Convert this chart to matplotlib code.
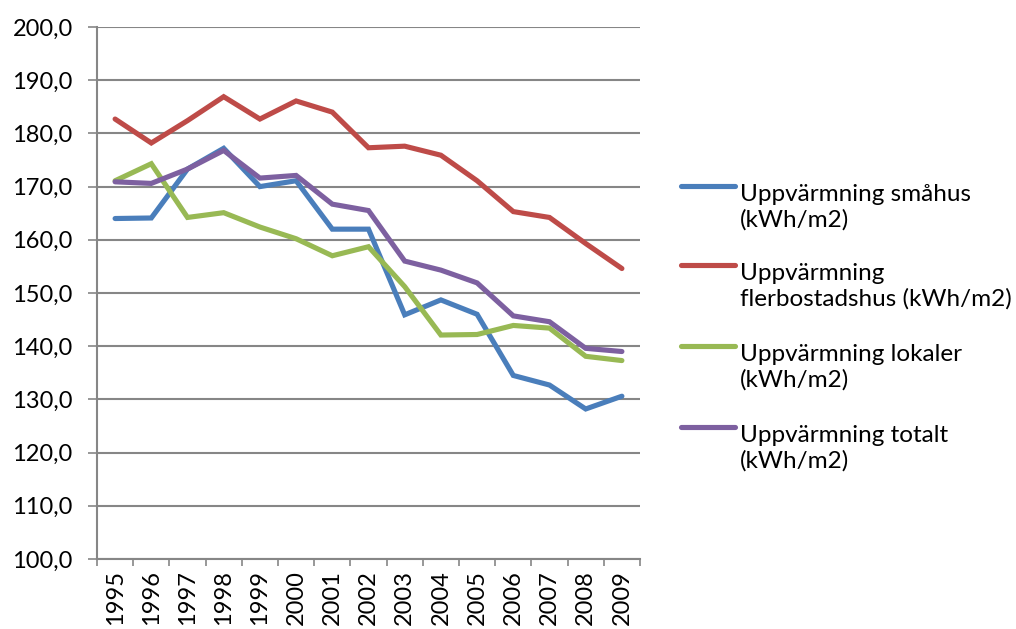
import matplotlib
matplotlib.use("Agg")
import matplotlib.pyplot as plt
from matplotlib.lines import Line2D
from matplotlib.ticker import FixedLocator, FuncFormatter

years = ["1995", "1996", "1997", "1998", "1999", "2000", "2001", "2002",
         "2003", "2004", "2005", "2006", "2007", "2008", "2009"]
smahus = [164.0, 164.1, 173.3, 177.2, 170.0, 171.1, 162.0, 162.0,
          145.9, 148.7, 146.0, 134.5, 132.7, 128.2, 130.6]
flerbostadshus = [182.7, 178.2, 182.4, 186.9, 182.7, 186.1, 184.0, 177.3,
                  177.6, 175.9, 171.1, 165.3, 164.2, 159.3, 154.6]
lokaler = [171.1, 174.3, 164.2, 165.1, 162.4, 160.2, 157.0, 158.7,
           151.2, 142.1, 142.2, 143.9, 143.4, 138.1, 137.3]
totalt = [170.9, 170.6, 173.3, 176.8, 171.6, 172.1, 166.7, 165.5,
          156.0, 154.3, 151.9, 145.7, 144.6, 139.6, 139.0]

labels = ["Uppvärmning småhus\n(kWh/m2)",
          "Uppvärmning\nflerbostadshus (kWh/m2)",
          "Uppvärmning lokaler\n(kWh/m2)",
          "Uppvärmning totalt\n(kWh/m2)"]
colors = ["#4A7EBB", "#BE4B48", "#98B954", "#7D60A0"]
series = [smahus, flerbostadshus, lokaler, totalt]

plt.rcParams['font.family'] = ['Lato', 'DejaVu Sans']
W, H = 1016, 629
fig = plt.figure(figsize=(W / 100, H / 100), dpi=100)
ax = fig.add_axes([97 / W, 1 - 559 / H, (640 - 97) / W, (559 - 27) / H])

x = list(range(len(years)))
for vals, c in zip(series, colors):
    ax.plot(x, vals, color=c, lw=3.7, solid_capstyle='round', solid_joinstyle='miter', zorder=3)

ax.set_xlim(-0.5, len(years) - 0.5)
ax.set_ylim(100, 200)
ax.set_yticks(range(100, 201, 10))
ax.yaxis.set_major_formatter(FuncFormatter(lambda v, p: f"{v:.1f}".replace(".", ",")))
ax.grid(axis='y', color='#868686', lw=1.5, zorder=1)
ax.set_axisbelow(True)

ax.set_xticks(x)
ax.set_xticklabels(years, rotation=90)
ax.xaxis.set_minor_locator(FixedLocator([i - 0.5 for i in range(len(years) + 1)]))
ax.tick_params(axis='x', which='major', length=0, pad=8, labelsize=17)
ax.tick_params(axis='x', which='minor', length=5, width=1.2, color='#868686', direction='out')
ax.tick_params(axis='y', length=6.5, width=1.2, color='#868686', labelsize=17, pad=11)

for s in ['top', 'right']:
    ax.spines[s].set_visible(False)
for s in ['left', 'bottom']:
    ax.spines[s].set_color('#868686')
    ax.spines[s].set_linewidth(1.5)

# legend drawn manually (handle aligned with first text line)
leg_y = [186, 265, 346, 427]
line_gap = 30
for lab, c, yy in zip(labels, colors, leg_y):
    fy = 1 - yy / H
    fig.add_artist(Line2D([681 / W, 735 / W], [fy, fy], color=c, lw=3.7,
                          solid_capstyle='round', transform=fig.transFigure))
    fig.text(740 / W, 1 - (yy + 10.5 + line_gap) / H, lab, fontsize=17.5, va='baseline', ha='left',
             linespacing=1.22, color='black')

fig.savefig("out.png", dpi=100)
